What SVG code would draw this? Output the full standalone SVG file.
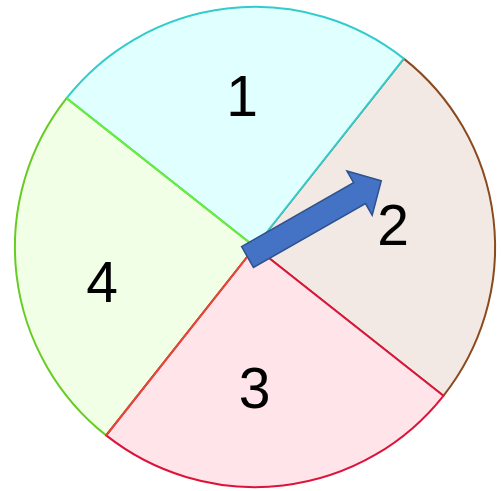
<svg xmlns="http://www.w3.org/2000/svg" width="501" height="491" viewBox="0 0 501 491">
<style>
.lbl{font-family:"Liberation Sans","DejaVu Sans",sans-serif;font-size:57px;fill:#000;text-anchor:middle}
.sec{stroke-width:2;stroke-linejoin:round}
</style>
<rect width="501" height="491" fill="#fff"/>
<g id="sector2">
<path class="sec" d="M255,247 L403.8,58.6 A240,240 0 0 1 443.4,395.8 Z" fill="#f3e9e4" stroke="#8b4a1e"/>
<text class="lbl" x="393" y="245">2</text>
</g>
<g id="sector1">
<path class="sec" d="M255,247 L66.6,98.2 A240,240 0 0 1 403.8,58.6 Z" fill="#e0ffff" stroke="#33cccc"/>
<text class="lbl" x="242" y="116">1</text>
</g>
<g id="sector4">
<path class="sec" d="M255,247 L106.2,435.4 A240,240 0 0 1 66.6,98.2 Z" fill="#f0ffe6" stroke="#66cc22"/>
<path d="M255,247 L66.6,98.2" stroke="#66ee44" stroke-width="2"/>
<text class="lbl" x="102" y="302">4</text>
</g>
<g id="sector3">
<path class="sec" d="M255,247 L443.4,395.8 A240,240 0 0 1 106.2,435.4 Z" fill="#ffe4e9" stroke="#dc143c"/>
<path d="M255,247 L106.2,435.4" stroke="#e4483a" stroke-width="2"/>
<text class="lbl" x="254.5" y="408">3</text>
</g>
<g id="connectors">
<g id="pointer" transform="translate(247.5,257) rotate(-29.7)">
<polygon points="0,-12 129,-12 129,-25.5 154,0 129,25.5 129,12 0,12" fill="#4472c4" stroke="#2f528f" stroke-width="1.5" stroke-linejoin="miter"/>
</g>
</g>
</svg>
